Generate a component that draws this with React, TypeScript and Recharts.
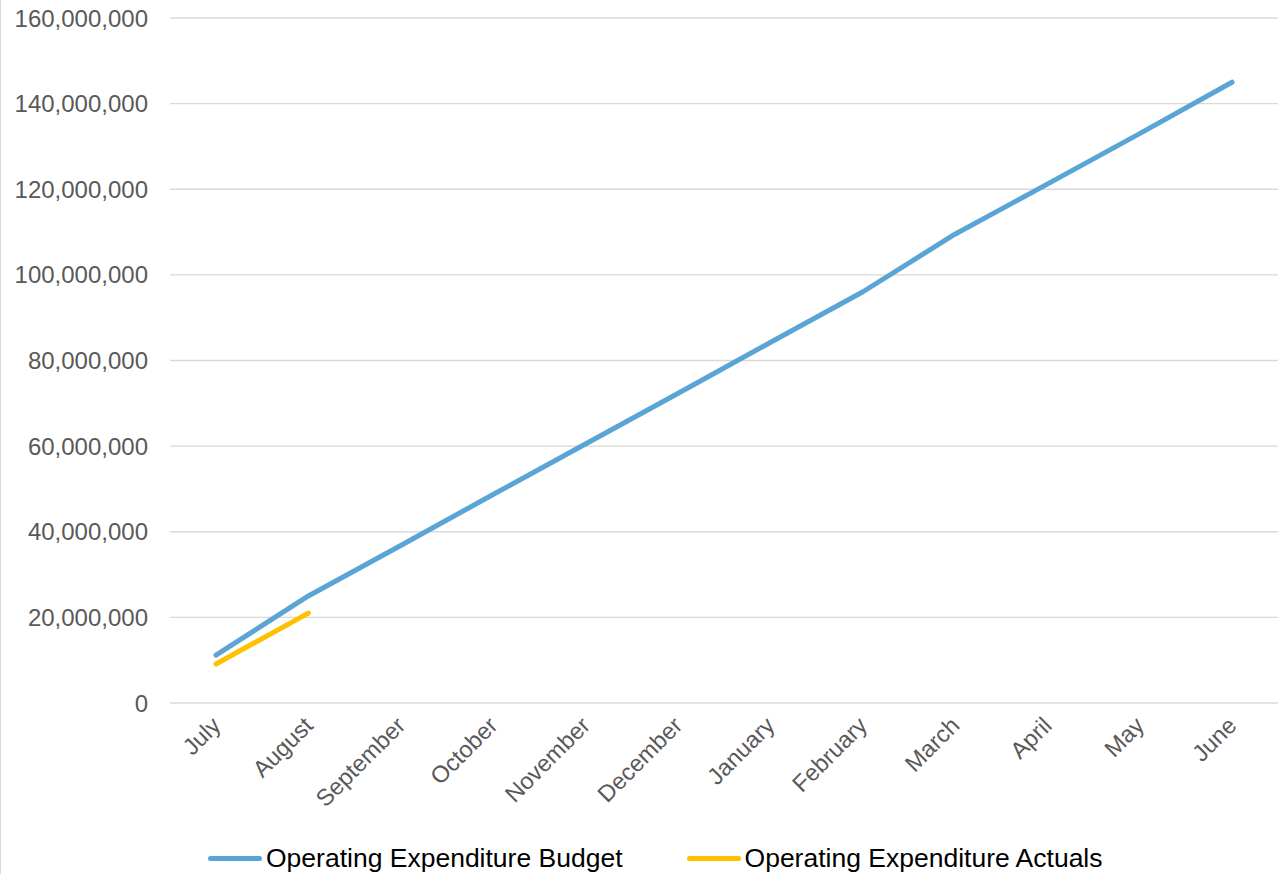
import React from 'react'
import { LineChart, Line, XAxis, YAxis, CartesianGrid } from 'recharts'

const months = ['July', 'August', 'September', 'October', 'November', 'December', 'January', 'February', 'March', 'April', 'May', 'June']
const budget = [11200000, 25000000, 36800000, 48700000, 60500000, 72300000, 84200000, 96000000, 109500000, 121200000, 133000000, 145000000]
const actuals: (number | null)[] = [9100000, 21000000, null, null, null, null, null, null, null, null, null, null]
const yTicks = [0, 20000000, 40000000, 60000000, 80000000, 100000000, 120000000, 140000000, 160000000]

const seriesNames = ['Operating Expenditure Budget', 'Operating Expenditure Actuals']
const seriesColors = ['#5BA4D6', '#FFC000']

const data = months.map((m, i) => ({ month: m, budget: budget[i], actuals: actuals[i] }))

const FONT = '"Liberation Sans", Arial, sans-serif'

const MonthTick = (props: any) => {
  const { x, y, payload } = props
  return (
    <text
      x={x + 6}
      y={y + 24}
      textAnchor="end"
      fill="#595959"
      fontSize={23.5}
      fontFamily={FONT}
      transform={`rotate(-45, ${x + 6}, ${y + 24})`}
    >
      {payload.value}
    </text>
  )
}

export default function App() {
  return (
    <div
      style={{
        position: 'absolute',
        top: 0,
        left: 0,
        width: 1278,
        height: 874,
        background: '#fff',
        borderLeft: '1px solid #d9d9d9',
        boxSizing: 'border-box',
        fontFamily: FONT,
      }}
    >
      <LineChart width={1277} height={874} data={data} margin={{ top: 18, right: 0, left: 0, bottom: 0 }}>
        <CartesianGrid vertical={false} stroke="#d9d9d9" strokeWidth={1.4} />
        <XAxis
          dataKey="month"
          height={171}
          axisLine={false}
          tickLine={false}
          tickSize={0}
          tickMargin={0}
          interval={0}
          padding={{ left: 46, right: 46 }}
          tick={<MonthTick />}
        />
        <YAxis
          width={169}
          domain={[0, 160000000]}
          ticks={yTicks}
          axisLine={false}
          tickLine={false}
          tickSize={0}
          tickMargin={22}
          tick={{ fill: '#595959', fontSize: 24, fontFamily: FONT }}
          tickFormatter={(v: number) => v.toLocaleString('en-US')}
        />
        <Line
          dataKey="budget"
          name={seriesNames[0]}
          stroke={seriesColors[0]}
          strokeWidth={5}
          strokeLinecap="round"
          strokeLinejoin="round"
          dot={false}
          isAnimationActive={false}
        />
        <Line
          dataKey="actuals"
          name={seriesNames[1]}
          stroke={seriesColors[1]}
          strokeWidth={5}
          strokeLinecap="round"
          strokeLinejoin="round"
          dot={false}
          isAnimationActive={false}
        />
      </LineChart>
      <div style={{ position: 'absolute', top: 842, left: 207, display: 'flex', alignItems: 'center' }}>
        {seriesNames.map((n, i) => (
          <div key={n} style={{ display: 'flex', alignItems: 'center', marginRight: i === 0 ? 64 : 0 }}>
            <div style={{ width: 54, height: 5, borderRadius: 3, background: seriesColors[i], marginRight: 4 }} />
            <span style={{ fontSize: 26.5, color: '#000', lineHeight: '32px' }}>{n}</span>
          </div>
        ))}
      </div>
    </div>
  )
}
